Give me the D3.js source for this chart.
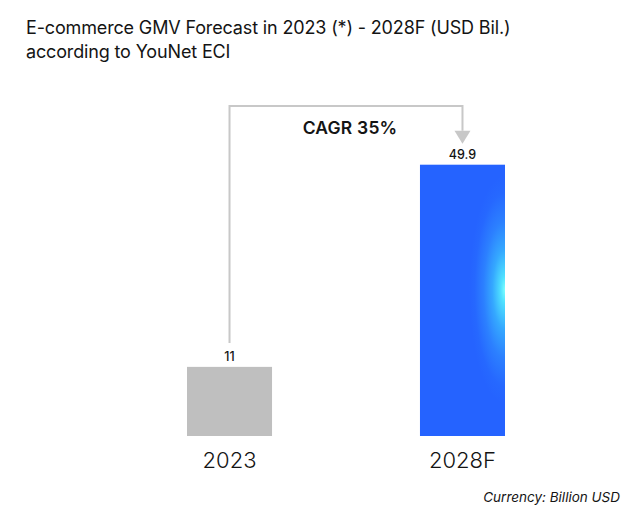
<!DOCTYPE html>
<html>
<head>
<meta charset="utf-8">
<script src="https://cdn.jsdelivr.net/npm/d3@7"></script>
<style>
  html, body { margin: 0; padding: 0; background: #fff; }
  svg { display: block; font-family: Inter, "Noto Sans", sans-serif; }
</style>
</head>
<body>
<svg id="chart" width="640" height="511"></svg>
<script>
const titleLines = ["E-commerce GMV Forecast in 2023 (*) - 2028F (USD Bil.)", "according to YouNet ECI"];
const categories = ["2023", "2028F"];
const values = [11, 49.9];
const valueLabels = ["11", "49.9"];
const cagrLabel = "CAGR 35%";
const noteText = "Currency: Billion USD";

const svg = d3.select("#chart");
const W = 640, H = 511;
svg.append("rect").attr("width", W).attr("height", H).attr("fill", "#fff");

// Gradient for the forecast bar
const defs = svg.append("defs");
const grad = defs.append("radialGradient")
  .attr("id", "glow")
  .attr("cx", 1).attr("cy", 0.46).attr("r", 0.42)
  .attr("fx", 1).attr("fy", 0.46);
[[0, "#7dffff"], [0.12, "#4fe0ff"], [0.35, "#35a8ff"], [0.6, "#2c80ff"], [0.85, "#2668ff"], [1, "#2563ff"]]
  .forEach(([o, c]) => grad.append("stop").attr("offset", o).attr("stop-color", c));

// Title
svg.append("g").selectAll("text").data(titleLines).join("text")
  .attr("x", 26).attr("y", (d, i) => 34 + i * 24)
  .attr("font-size", 18).attr("font-weight", 400).attr("fill", "#141414")
  .attr("letter-spacing", -0.15)
  .text(d => d);

// Scales
const x = d3.scaleBand().domain(categories).range([187, 505]).paddingInner(0.635).paddingOuter(0);
const y = d3.scaleLinear().domain([-2.3, 49.9]).range([436, 164.7]);
const colors = ["#bfbfbf", "url(#glow)"];

// Bars
svg.append("g").selectAll("rect").data(values).join("rect")
  .attr("x", (d, i) => x(categories[i]))
  .attr("y", d => y(d))
  .attr("width", x.bandwidth())
  .attr("height", d => y(-2.3) - y(d))
  .attr("fill", (d, i) => colors[i]);

// Value labels
svg.append("g").selectAll("text").data(values).join("text")
  .attr("x", (d, i) => x(categories[i]) + x.bandwidth() / 2)
  .attr("y", d => y(d) - 6)
  .attr("text-anchor", "middle")
  .attr("font-size", 12.5).attr("font-weight", 500).attr("fill", "#141414")
  .text((d, i) => valueLabels[i]);

// Category labels (axis)
const xAxis = d3.axisBottom(x).tickSize(0).tickPadding(0);
const ax = svg.append("g").attr("transform", "translate(0,452)").call(xAxis);
ax.select(".domain").remove();
ax.selectAll("text")
  .attr("dy", "0.71em")
  .attr("font-size", 22).attr("font-weight", 300).attr("fill", "#141414")
  .attr("font-family", "Inter, sans-serif");

// CAGR connector
const x0 = x(categories[0]) + x.bandwidth() / 2;
const x1 = x(categories[1]) + x.bandwidth() / 2;
const topY = 106;
const startY = y(values[0]) - 24;
const arrowTip = y(values[1]) - 21;
const arrowH = 13, arrowW = 8;
svg.append("path")
  .attr("d", `M${x0},${startY} V${topY} H${x1} V${arrowTip - arrowH}`)
  .attr("fill", "none").attr("stroke", "#c8c8c8").attr("stroke-width", 2);
svg.append("path")
  .attr("d", `M${x1 - arrowW},${arrowTip - arrowH} L${x1 + arrowW},${arrowTip - arrowH} L${x1},${arrowTip} Z`)
  .attr("fill", "#c8c8c8");

svg.append("text")
  .attr("x", 350).attr("y", 134.3)
  .attr("text-anchor", "middle")
  .attr("font-size", 17.5).attr("font-weight", 600).attr("fill", "#141414")
  .attr("letter-spacing", 0.2)
  .text(cagrLabel);

// Note
svg.append("text")
  .attr("x", 620).attr("y", 501.5)
  .attr("text-anchor", "end")
  .attr("font-size", 13.5).attr("font-style", "italic").attr("fill", "#141414")
  .attr("letter-spacing", 0)
  .text(noteText);
</script>
</body>
</html>
